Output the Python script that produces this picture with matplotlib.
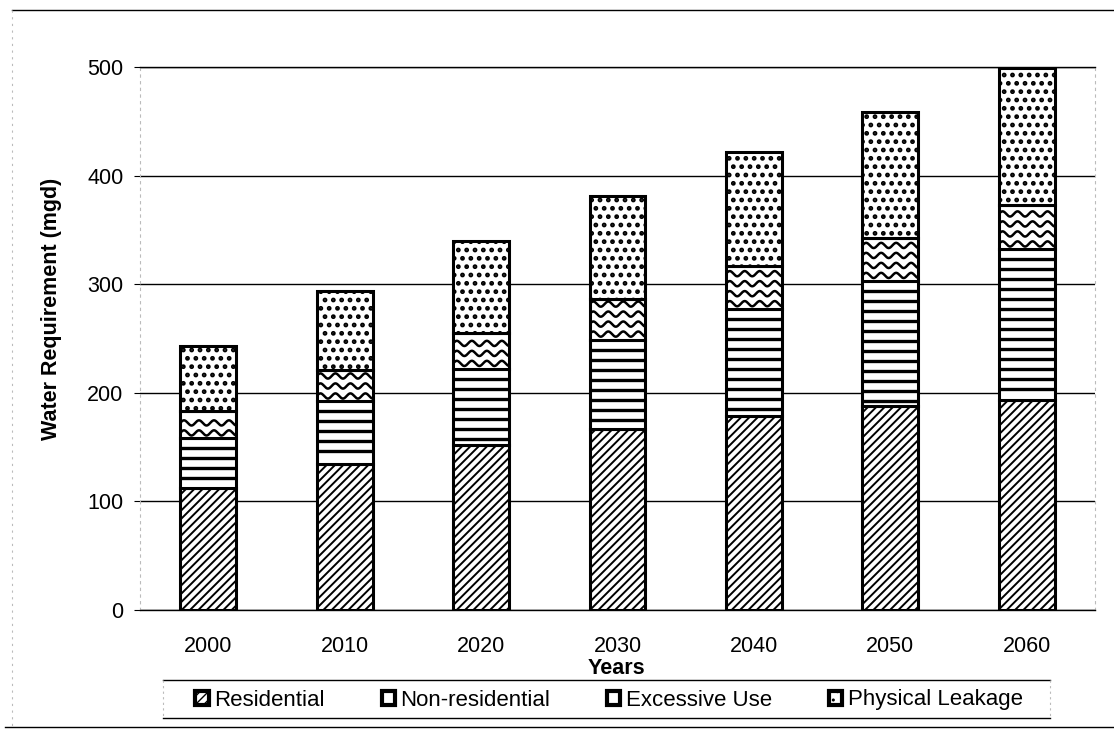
import numpy as np
import matplotlib
matplotlib.use("Agg")
import matplotlib.pyplot as plt
from matplotlib.lines import Line2D

# Water requirement by component (mgd)
years = ["2000", "2010", "2020", "2030", "2040", "2050", "2060"]
residential = [112, 134, 152, 167, 179, 188, 193]
non_residential = [46, 58, 70, 82, 98, 115, 139]
excessive_use = [25, 29, 33, 37, 40, 40, 41]
physical_leakage = [60, 73, 85, 95, 105, 116, 126]

series_names = ["Residential", "Non-residential", "Excessive Use", "Physical Leakage"]

plt.rcParams['font.family'] = ['Liberation Sans', 'DejaVu Sans']
FS = 15.5
FS_LEG = 16

W, H = 1114, 737
fig = plt.figure(figsize=(W / 100, H / 100), dpi=100)
fig.patch.set_facecolor("white")
ax = fig.add_axes([140 / W, 1 - 610 / H, (1095 - 140) / W, (610 - 67) / H])

x = np.arange(len(years))
width = 0.41
ax.set_xlim(-0.5, len(years) - 0.5)
ax.set_ylim(0, 500)

styles = [
    dict(hatch="////", hlw=1.4),
    dict(hatch=None, hlw=1.0),
    dict(hatch=None, hlw=1.0),
    dict(hatch="..", hlw=2.2),
]

containers = []
bottom = np.zeros(len(years))
for vals, name, st in zip([residential, non_residential, excessive_use, physical_leakage],
                          series_names, styles):
    with plt.rc_context({"hatch.linewidth": st["hlw"], "hatch.color": "black"}):
        bars = ax.bar(x, vals, width, bottom=bottom, color="white", edgecolor="black",
                      linewidth=2.2, hatch=st["hatch"], label=name, zorder=3)
    for b in bars:
        if hasattr(b, "set_hatch_linewidth"):
            b.set_hatch_linewidth(st["hlw"])
    containers.append(bars)
    bottom = bottom + np.array(vals)

# pixel scale of the data axes, used for the line fills below
p0 = ax.transData.transform((0, 0))
px_x = ax.transData.transform((1, 0))[0] - p0[0]
px_y = ax.transData.transform((0, 1))[1] - p0[1]

# horizontal stripes for the non-residential segments
for b in containers[1]:
    x0, y0, w, h = b.get_x(), b.get_y(), b.get_width(), b.get_height()
    yr = y0 + h - 10 / px_y
    while yr > y0 + 3 / px_y:
        ln = Line2D([x0, x0 + w], [yr, yr], color="black", lw=2.4, zorder=3.5)
        ax.add_line(ln)
        ln.set_clip_path(b)
        yr -= 10 / px_y

# wavy fill for the excessive-use segments
period = 15 / px_x
amp = 2.6 / px_y
row_gap = 10 / px_y
for b in containers[2]:
    x0, y0, w, h = b.get_x(), b.get_y(), b.get_width(), b.get_height()
    xs = np.linspace(x0, x0 + w, 300)
    yr = y0 + 5.5 / px_y
    while yr < y0 + h - 2 / px_y:
        ys = yr + amp * np.sin(2 * np.pi * (xs - x0) / period)
        ln = Line2D(xs, ys, color="black", lw=1.8, zorder=3.5)
        ax.add_line(ln)
        ln.set_clip_path(b)
        yr += row_gap

ax.set_yticks(range(0, 501, 100))
ax.set_xticks(x)
ax.set_xticklabels(years)
ax.yaxis.grid(True, color="black", lw=1.0, zorder=0)
ax.set_axisbelow(True)
ax.tick_params(axis="x", length=0, pad=19, labelsize=FS)
ax.tick_params(axis="y", length=4, width=0.8, direction="out", pad=8, labelsize=FS)
for side in ["left", "right"]:
    ax.spines[side].set_color("#bbbbbb")
    ax.spines[side].set_linestyle((0, (2, 4)))
    ax.spines[side].set_linewidth(0.8)
for side in ["top", "bottom"]:
    ax.spines[side].set_color("black")
    ax.spines[side].set_linewidth(1.0)

fig.text(52 / W, 1 - 309 / H, "Water Requirement (mgd)", rotation=90, ha="center",
         va="center", fontsize=FS, fontweight="bold")
fig.text(616 / W, 1 - 669 / H, "Years", ha="center", va="center", fontsize=FS,
         fontweight="bold")

# legend strip along the bottom
leg = fig.legend(handles=containers, labels=series_names, loc="center",
                 bbox_to_anchor=(609 / W, 1 - 700 / H), ncol=4, frameon=False,
                 fontsize=FS_LEG, handlelength=0.6, handleheight=0.6, handletextpad=0.25,
                 columnspacing=2.55)
for hp in leg.get_patches():
    hp.set_linewidth(3.0)
fig.add_artist(Line2D([163 / W, 1050 / W], [1 - 680 / H] * 2, color="black", lw=1.0,
                      transform=fig.transFigure))
fig.add_artist(Line2D([163 / W, 1050 / W], [1 - 718 / H] * 2, color="black", lw=1.0,
                      transform=fig.transFigure))
for xx in (163, 1050):
    fig.add_artist(Line2D([xx / W] * 2, [1 - 680 / H, 1 - 718 / H], color="#bbbbbb",
                          lw=0.8, ls=(0, (2, 3)), transform=fig.transFigure))

# chart border
fig.add_artist(Line2D([12 / W, 1.0], [1 - 10 / H] * 2, color="black", lw=1.0,
                      transform=fig.transFigure))
fig.add_artist(Line2D([5 / W, 1.0], [1 - 727 / H] * 2, color="black", lw=1.0,
                      transform=fig.transFigure))
fig.add_artist(Line2D([12 / W] * 2, [1 - 10 / H, 1 - 727 / H], color="#bbbbbb", lw=0.8,
                      ls=(0, (2, 4)), transform=fig.transFigure))

fig.savefig("out.png", dpi=100, facecolor="white")
